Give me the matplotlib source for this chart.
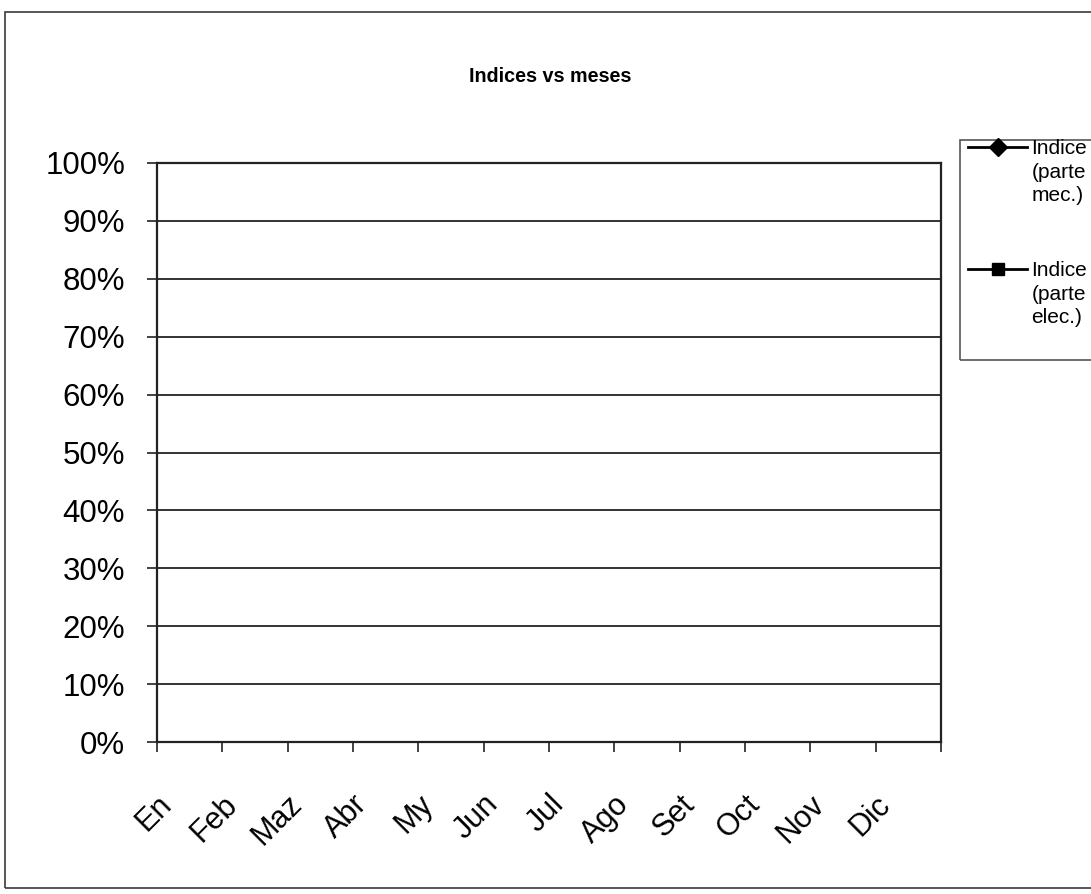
import numpy as np
import matplotlib
matplotlib.use("Agg")
import matplotlib.pyplot as plt
import matplotlib.transforms as mtransforms
from matplotlib.patches import Rectangle
from matplotlib.legend_handler import HandlerLine2D
from matplotlib.ticker import PercentFormatter, FixedLocator

plt.rcParams['font.family'] = ['Liberation Sans', 'DejaVu Sans']

months = ["En", "Feb", "Maz", "Abr", "My", "Jun", "Jul", "Ago", "Set", "Oct", "Nov", "Dic"]
indice_mec = [None] * 12   # no values plotted in the reference
indice_elec = [None] * 12
series_labels = ["Indice\n(parte\nmec.)", "Indice\n(parte\nelec.)"]
y_ticks = [0, 0.1, 0.2, 0.3, 0.4, 0.5, 0.6, 0.7, 0.8, 0.9, 1.0]
title = "Indices vs meses"

W, H = 1091, 894
fig = plt.figure(figsize=(W / 100, H / 100), dpi=100)
fig.patch.set_facecolor("white")

# outer chart frame
fig.add_artist(Rectangle((5 / W, 1 - 888 / H), 1.2, (888 - 12) / H,
                         transform=fig.transFigure, fill=False,
                         edgecolor="#3a3a3a", lw=1.2))

ax = fig.add_axes([157 / W, 1 - 742 / H, (941 - 157) / W, (742 - 163) / H])
x = np.arange(len(months)) + 0.5
l1, = ax.plot(x, np.array(indice_mec, dtype=float), color="black", lw=2,
              marker="D", markersize=9, label=series_labels[0])
l2, = ax.plot(x, np.array(indice_elec, dtype=float), color="black", lw=2,
              marker="s", markersize=9, label=series_labels[1])

ax.set_xlim(0, len(months))
ax.set_ylim(0, 1)
ax.set_yticks(y_ticks)
ax.yaxis.set_major_formatter(PercentFormatter(1.0, decimals=0))
ax.xaxis.set_minor_locator(FixedLocator(np.arange(len(months) + 1)))
ax.tick_params(axis="x", which="major", length=0, pad=34)
ax.tick_params(axis="x", which="minor", length=7, width=1.2, color="#222222")
ax.tick_params(axis="y", length=7, width=1.2, color="#222222", labelsize=22.5, pad=16)
ax.set_xticks(x)
ax.set_xticklabels(months, rotation=45, ha="right", va="top",
                   rotation_mode="anchor", fontsize=22)
shift = mtransforms.ScaledTranslation(-0.33, 0, fig.dpi_scale_trans)
for lbl in ax.xaxis.get_majorticklabels():
    lbl.set_transform(lbl.get_transform() + shift)
ax.grid(axis="y", color="#222222", lw=1.3)
for s in ax.spines.values():
    s.set_color("#222222")
    s.set_linewidth(1.6)
ax.set_axisbelow(True)

fig.text(550 / W, 1 - 77 / H, title, ha="center", va="center",
         fontsize=14.2, fontweight="bold")

# legend frame
fig.add_artist(Rectangle((960 / W, 1 - 360 / H), 0.2, 220 / H,
                         transform=fig.transFigure, fill=False,
                         edgecolor="#555555", lw=1.2))


class TopHandler(HandlerLine2D):
    def __init__(self, shift, **kw):
        super().__init__(**kw)
        self.shift = shift

    def create_artists(self, legend, orig_handle, xdescent, ydescent,
                       width, height, fontsize, trans):
        return super().create_artists(legend, orig_handle, xdescent,
                                      ydescent - self.shift, width, height,
                                      fontsize, trans)


hm = {l1: TopHandler(36), l2: TopHandler(36)}
leg = fig.legend(handles=[l1, l2], loc="upper left",
                 bbox_to_anchor=(968 / W, 1 - 139 / H), frameon=False,
                 fontsize=15, handlelength=2.85, handletextpad=0.2,
                 labelspacing=2.7, borderpad=0, borderaxespad=0,
                 handler_map=hm)
for t in leg.get_texts():
    t.set_linespacing(1.3)

fig.savefig("out.png", dpi=100, facecolor="white")
